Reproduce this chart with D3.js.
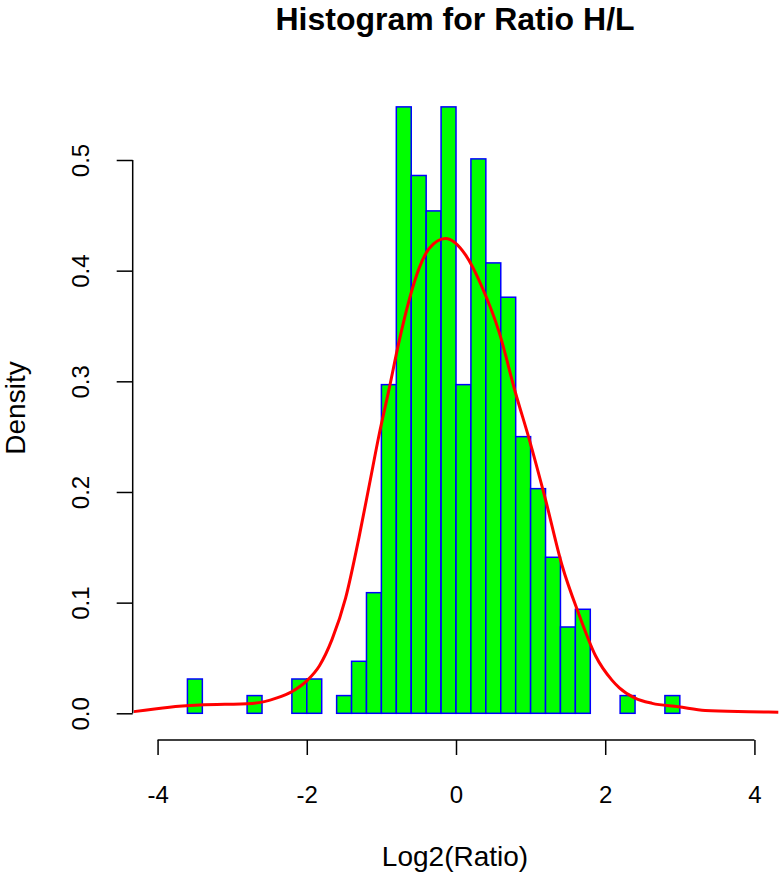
<!DOCTYPE html>
<html>
<head>
<meta charset="utf-8">
<script src="https://cdn.jsdelivr.net/npm/d3@7"></script>
<style>
  body { margin: 0; background: #fff; }
  svg text { font-family: "Liberation Sans", Arial, sans-serif; fill: #000; }
</style>
</head>
<body>
<svg id="chart" width="780" height="878"></svg>
<script>
// Histogram bins: left edge of the first bin, bin width, and the density of each bin
const binStart = -4.4;
const binWidth = 0.2;
const densities = [
  0, 0, 0, 0, 0.031, 0, 0, 0, 0.016, 0, 0, 0.031, 0.031, 0, 0.016, 0.047,
  0.109, 0.297, 0.548, 0.486, 0.454, 0.548, 0.297, 0.501, 0.407, 0.376,
  0.250, 0.203, 0.141, 0.078, 0.094, 0, 0, 0.016, 0, 0, 0.016,
];

// Fitted density curve
const curveX = [-4.32, -3.84, -3.44, -2.73, -2.41, -2.19, -1.99, -1.83, -1.66,
  -1.48, -1.30, -1.16, -1.03, -0.90, -0.76, -0.63, -0.49, -0.36, -0.14, 0.13,
  0.35, 0.58, 0.80, 0.98, 1.20, 1.42, 1.65, 1.87, 2.09, 2.19, 2.40, 2.63, 2.98,
  3.34, 3.92, 4.32];
const curveY = [0.0015, 0.0055, 0.0074, 0.0089, 0.0137, 0.020, 0.030, 0.043,
  0.067, 0.104, 0.159, 0.207, 0.252, 0.292, 0.337, 0.373, 0.403, 0.420, 0.429,
  0.414, 0.385, 0.344, 0.289, 0.248, 0.193, 0.134, 0.089, 0.052, 0.030, 0.023,
  0.0137, 0.009, 0.006, 0.0026, 0.0015, 0.001];

// Axis ticks
const xTicks = [-4, -2, 0, 2, 4];
const yTicks = [0, 0.1, 0.2, 0.3, 0.4, 0.5];

const title = 'Histogram for Ratio H/L';
const xLabel = 'Log2(Ratio)';
const yLabel = 'Density';

const svg = d3.select('#chart');

// Plot region (R pads the axis limits by 4%)
const x = d3.scaleLinear().domain([-4.32, 4.32]).range([133.7, 778.3]);
const y = d3.scaleLinear().domain([0, 0.5]).range([713.3, 160]);
const plotBottom = 740;

svg.append('clipPath')
  .attr('id', 'plot-clip')
  .append('rect')
  .attr('x', x.range()[0])
  .attr('y', 0)
  .attr('width', x.range()[1] - x.range()[0] + 2)
  .attr('height', plotBottom);

const plot = svg.append('g').attr('clip-path', 'url(#plot-clip)');

// Bars
const bins = densities.map((d, i) => ({
  x0: binStart + i * binWidth,
  x1: binStart + (i + 1) * binWidth,
  density: d,
}));

plot.selectAll('.bar')
  .data(bins)
  .enter().append('rect')
  .attr('class', 'bar')
  .attr('x', d => x(d.x0))
  .attr('y', d => y(d.density))
  .attr('width', d => x(d.x1) - x(d.x0))
  .attr('height', d => y(0) - y(d.density))
  .attr('fill', '#00ff00')
  .attr('stroke', '#0000ff')
  .attr('stroke-width', 1.5);

// Density curve
const line = d3.line()
  .x((d, i) => x(curveX[i]))
  .y(d => y(d))
  .curve(d3.curveMonotoneX);

plot.append('path')
  .datum(curveY)
  .attr('d', line)
  .attr('fill', 'none')
  .attr('stroke', '#ff0000')
  .attr('stroke-width', 3);

// Create the X Axis
const xAxis = d3.axisBottom(x)
  .tickValues(xTicks)
  .tickFormat(d => String(d))
  .tickSize(15)
  .tickPadding(31)
  .tickSizeOuter(0);

const gx = svg.append('g')
  .attr('class', 'x axis')
  .attr('transform', `translate(0, ${plotBottom})`)
  .call(xAxis);

gx.select('.domain').remove();
gx.append('line')
  .attr('x1', x(xTicks[0]))
  .attr('x2', x(xTicks[xTicks.length - 1]))
  .attr('stroke', '#000');

// Create the Y Axis
const yAxis = d3.axisLeft(y)
  .tickValues(yTicks)
  .tickFormat(d3.format('.1f'))
  .tickSize(16)
  .tickSizeOuter(0);

const gy = svg.append('g')
  .attr('class', 'y axis')
  .attr('transform', `translate(${x.range()[0] - 1}, 0)`)
  .call(yAxis);

gy.select('.domain')
  .attr('d', `M0,${y(0)}V${y(0.5)}`);

// R draws y tick labels parallel to the axis
gy.selectAll('.tick text')
  .attr('transform', 'rotate(-90)')
  .attr('x', 0)
  .attr('y', -44)
  .attr('dy', 0)
  .attr('text-anchor', 'middle');

svg.selectAll('.axis path, .axis line')
  .attr('stroke', '#000')
  .attr('stroke-width', 1.5);

svg.selectAll('.axis text')
  .style('font-size', '24px')
  .style('font-family', '"Liberation Sans", Arial, sans-serif');

// Titles
svg.append('text')
  .attr('x', 455)
  .attr('y', 30)
  .attr('text-anchor', 'middle')
  .style('font-size', '32px')
  .style('font-weight', 'bold')
  .text(title);

svg.append('text')
  .attr('x', 455)
  .attr('y', 866)
  .attr('text-anchor', 'middle')
  .style('font-size', '28px')
  .text(xLabel);

svg.append('text')
  .attr('transform', 'translate(25, 408) rotate(-90)')
  .attr('text-anchor', 'middle')
  .style('font-size', '28px')
  .text(yLabel);
</script>
</body>
</html>
